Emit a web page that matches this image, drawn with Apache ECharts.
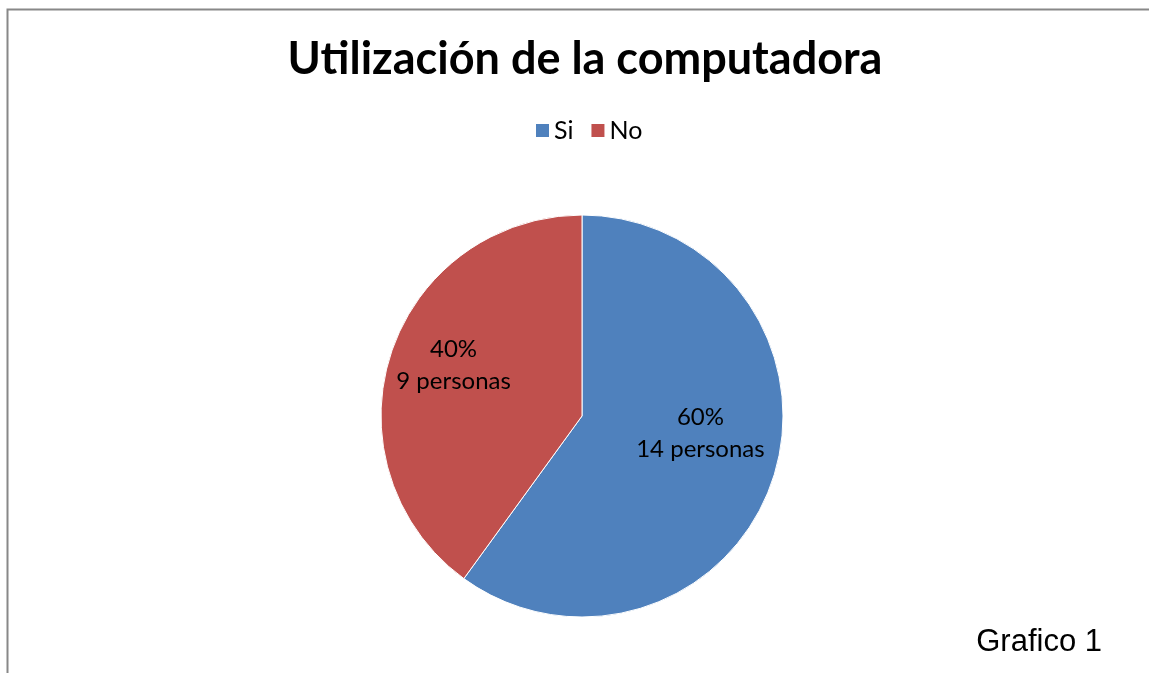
<!DOCTYPE html>
<html>
<head>
<meta charset="utf-8">
<script src="https://cdn.jsdelivr.net/npm/echarts@6/dist/echarts.min.js"></script>
<style>
  html, body { margin: 0; padding: 0; background: #fff; }
  #chart { width: 1149px; height: 673px; }
</style>
</head>
<body>
<div id="chart"></div>
<script>
const categories = ['Si', 'No']
const percents = [60, 40]
const persons = [14, 9]
const colors = ['#4F81BD', '#C0504D']

const chart = echarts.init(document.getElementById('chart'))

// offsets para acercar las etiquetas a donde las pone Excel
const labelOffsets = [[20, -15], [-30, -19]]

chart.setOption({
  animation: false,
  title: {
    text: 'Utilización de la computadora',
    left: 580,
    textAlign: 'center',
    top: 32,
    textStyle: {
      fontFamily: 'Lato',
      fontWeight: 'bold',
      fontSize: 45,
      color: '#000'
    }
  },
  legend: {
    data: categories,
    top: 113,
    left: 531,
    itemWidth: 13,
    itemHeight: 13,
    itemGap: 18,
    icon: 'rect',
    itemStyle: { borderWidth: 0 },
    textStyle: {
      fontFamily: 'Lato',
      fontSize: 25,
      color: '#000',
      padding: [0, 0, 0, 0]
    }
  },
  graphic: [
    {
      type: 'rect',
      left: 5,
      top: 7,
      shape: { width: 1200, height: 700 },
      style: { fill: 'none', stroke: '#888', lineWidth: 2 },
      silent: true
    },
    {
      type: 'text',
      right: 47,
      top: 627,
      style: {
        text: 'Grafico 1',
        font: '31px "Liberation Sans", Arial',
        fill: '#000'
      }
    }
  ],
  series: [
    {
      type: 'pie',
      center: [582, 416],
      radius: 201,
      startAngle: 90,
      clockwise: true,
      data: categories.map((name, i) => ({
        name: name,
        value: percents[i],
        itemStyle: { color: colors[i] },
        label: { offset: labelOffsets[i] }
      })),
      itemStyle: { borderColor: '#fff', borderWidth: 1 },
      label: {
        show: true,
        position: 'inside',
        fontFamily: 'Lato',
        fontSize: 24,
        lineHeight: 32,
        color: '#000',
        formatter: function (p) {
          return p.value + '%\n' + persons[p.dataIndex] + ' personas'
        }
      },
      labelLine: { show: false },
      emphasis: { disabled: true }
    }
  ]
})
</script>
</body>
</html>
